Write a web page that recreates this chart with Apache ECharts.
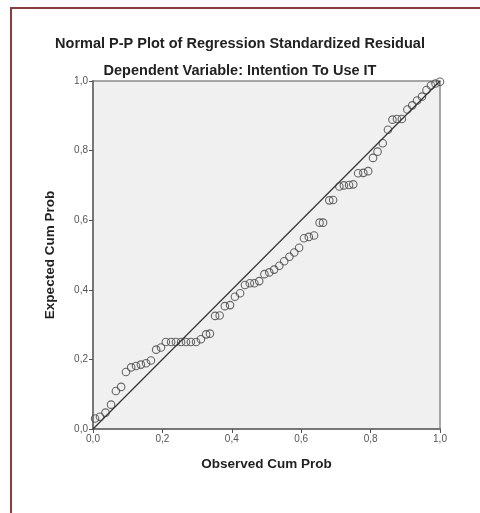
<!DOCTYPE html>
<html>
<head>
<meta charset="utf-8">
<script src="https://cdn.jsdelivr.net/npm/echarts@6/dist/echarts.min.js"></script>
<style>html,body{margin:0;padding:0;background:#fff}#c{width:480px;height:513px}</style>
</head>
<body>
<div id="c"></div>
<script>
const observed = [0.006,0.020,0.036,0.052,0.066,0.081,0.095,0.110,0.124,0.138,0.153,0.167,0.182,0.196,0.210,0.225,0.239,0.254,0.268,0.282,0.297,0.311,0.326,0.337,0.352,0.365,0.380,0.395,0.409,0.424,0.438,0.452,0.465,0.479,0.494,0.508,0.522,0.537,0.551,0.566,0.580,0.594,0.608,0.622,0.637,0.653,0.663,0.681,0.692,0.710,0.723,0.738,0.750,0.764,0.779,0.793,0.807,0.820,0.835,0.850,0.863,0.876,0.890,0.906,0.920,0.934,0.948,0.961,0.974,0.987,1.000];
const expected = [0.030,0.035,0.047,0.070,0.109,0.121,0.164,0.177,0.181,0.185,0.189,0.197,0.228,0.234,0.250,0.250,0.250,0.250,0.250,0.250,0.250,0.258,0.272,0.274,0.325,0.326,0.353,0.356,0.380,0.390,0.414,0.419,0.419,0.425,0.445,0.450,0.458,0.469,0.482,0.495,0.507,0.521,0.548,0.552,0.556,0.593,0.593,0.657,0.658,0.697,0.700,0.701,0.703,0.735,0.736,0.741,0.779,0.797,0.821,0.860,0.889,0.891,0.891,0.918,0.930,0.944,0.955,0.974,0.987,0.993,0.998];
const refLine = [[0,0],[1,1]];
const titleText = 'Normal P-P Plot of Regression Standardized Residual';
const subtitleText = 'Dependent Variable: Intention To Use IT';
const xName = 'Observed Cum Prob';
const yName = 'Expected Cum Prob';

const chart = echarts.init(document.getElementById('c'));
const fmt = v => v.toFixed(1).replace('.', ',');
const font = '"Liberation Sans", Arial, sans-serif';
const axisCommon = {
  type: 'value', min: 0, max: 1, interval: 0.2,
  axisLine: {show: true, lineStyle: {color: '#777', width: 2}},
  axisTick: {show: true, length: 4, lineStyle: {color: '#555', width: 1}},
  axisLabel: {formatter: fmt, color: '#555', fontSize: 10, fontFamily: font, margin: 5},
  splitLine: {show: false},
  nameLocation: 'middle',
  nameTextStyle: {fontWeight: 'bold', fontSize: 13.5, color: '#222', fontFamily: font}
};
chart.setOption({
  animation: false,
  backgroundColor: '#fff',
  title: [
    {text: titleText, left: 'center', top: 31, textStyle: {fontSize: 14.5, fontWeight: 'bold', color: '#222', fontFamily: font}},
    {text: subtitleText, left: 'center', top: 58, textStyle: {fontSize: 14.5, fontWeight: 'bold', color: '#222', fontFamily: font}}
  ],
  graphic: [
    {type: 'rect', shape: {x: 11, y: 8, width: 520, height: 560}, style: {fill: 'none', stroke: '#8b3d3d', lineWidth: 2}, silent: true}
  ],
  grid: {left: 93, top: 81, width: 347, height: 348, show: true, backgroundColor: '#f0f0f0', borderColor: '#8a8a8a', borderWidth: 1.5},
  xAxis: Object.assign({}, axisCommon, {name: xName, nameGap: 28}),
  yAxis: Object.assign({}, axisCommon, {name: yName, nameGap: 36}),
  series: [
    {type: 'line', data: refLine, showSymbol: false, symbol: 'none', lineStyle: {color: '#333', width: 1.2}, silent: true},
    {type: 'scatter', data: observed.map((x, i) => [x, expected[i]]), symbol: 'circle', symbolSize: 7.5,
     itemStyle: {color: 'rgba(0,0,0,0)', borderColor: '#444', borderWidth: 1.1}}
  ]
});
</script>
</body>
</html>
